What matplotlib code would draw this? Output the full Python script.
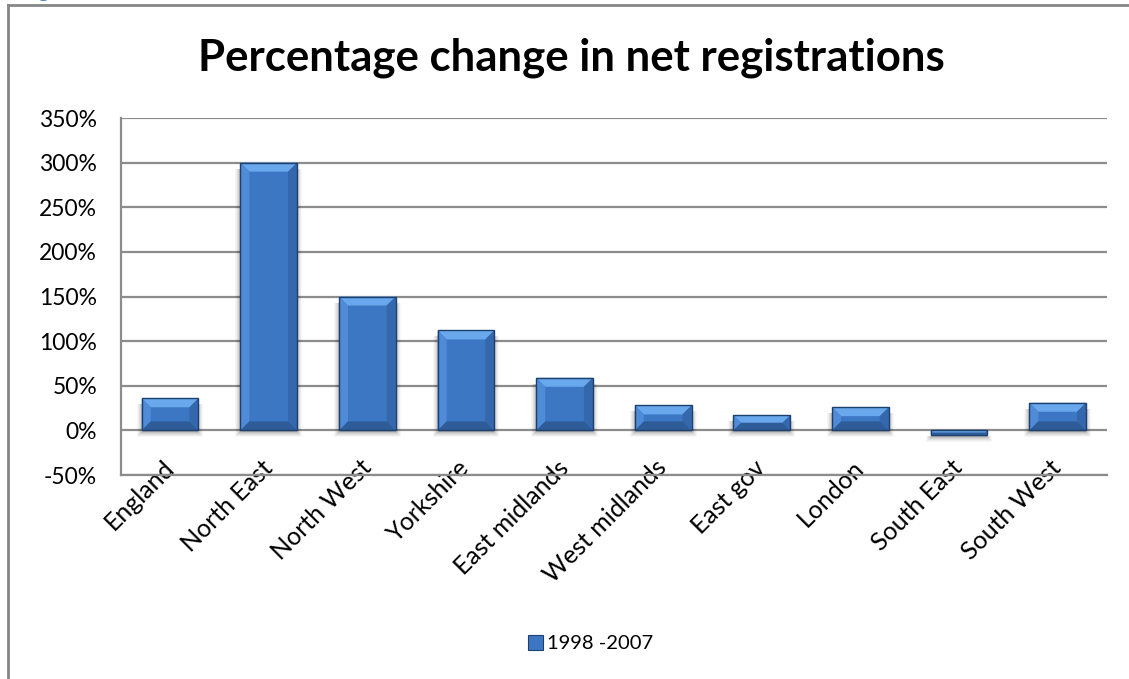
import matplotlib.pyplot as plt
from matplotlib.patches import Polygon, Rectangle
from matplotlib.lines import Line2D
import numpy as np

plt.rcParams['font.family'] = ['Lato', 'DejaVu Sans']

regions = ['England', 'North East', 'North West', 'Yorkshire', 'East midlands',
           'West midlands', 'East gov', 'London', 'South East', 'South West']
pct_change = [36, 300, 150, 112, 59, 28, 17, 26, -5, 31]
series_name = '1998 -2007'
y_ticks = [-50, 0, 50, 100, 150, 200, 250, 300, 350]

face = '#3b77c2'
top_c = '#6aa8ee'
left_c = '#4f8bd6'
right_c = '#3467ab'
bottom_c = '#2d5c99'
edge_c = '#1d3f6e'

fig = plt.figure(figsize=(11.29, 6.79), dpi=100)
ax = fig.add_axes([0.107, 0.3004, 0.8735, 0.5258])

x = np.arange(len(regions))
width = 0.575
ax.set_xlim(-0.5, len(regions) - 0.5)
ax.set_ylim(-50, 350)

ax.set_yticks(y_ticks)
ax.set_yticklabels([f'{v}%' for v in y_ticks], fontsize=16.5)
ax.yaxis.grid(True, color='#8c8c8c', linewidth=1.6)
ax.set_axisbelow(True)
ax.tick_params(axis='y', length=0, pad=17)
ax.set_xticks(x)
ax.set_xticklabels(regions, fontsize=18, rotation=45, ha='right', va='center',
                   rotation_mode='anchor')
ax.tick_params(axis='x', length=0, pad=-8)
for s in ['top', 'right']:
    ax.spines[s].set_visible(False)
ax.spines['left'].set_color('#8c8c8c')
ax.spines['left'].set_linewidth(1.6)
ax.spines['bottom'].set_color('#8c8c8c')
ax.spines['bottom'].set_linewidth(1.6)

to_px = ax.transData
to_data = ax.transData.inverted()

for xi, v in zip(x, pct_change):
    (x0, y0), (x1, y1) = to_px.transform([(xi - width / 2, 0), (xi + width / 2, v)])
    ylo, yhi = min(y0, y1), max(y0, y1)
    h = yhi - ylo
    b = min(9.0, h / 2)

    # soft shadow under the bar
    for k, a in zip(range(6), [0.10, 0.08, 0.06, 0.05, 0.04, 0.03]):
        sh = [(x0 - k, ylo - 2 - k), (x1 + k, ylo - 2 - k),
              (x1 + k, yhi - 6), (x0 - k, yhi - 6)]
        ax.add_patch(Polygon(to_data.transform(sh), closed=True, facecolor='black',
                             edgecolor='none', alpha=a, zorder=2))

    outer = [(x0, ylo), (x1, ylo), (x1, yhi), (x0, yhi)]
    inner = [(x0 + b, ylo + b), (x1 - b, ylo + b), (x1 - b, yhi - b), (x0 + b, yhi - b)]
    ax.add_patch(Polygon(to_data.transform(outer), closed=True, facecolor=face,
                         edgecolor='none', zorder=3))
    bevels = [
        ([outer[3], outer[2], inner[2], inner[3]], top_c),
        ([outer[0], outer[3], inner[3], inner[0]], left_c),
        ([outer[1], outer[2], inner[2], inner[1]], right_c),
        ([outer[0], outer[1], inner[1], inner[0]], bottom_c),
    ]
    for pts, c in bevels:
        ax.add_patch(Polygon(to_data.transform(pts), closed=True, facecolor=c,
                             edgecolor='none', zorder=4))
    ax.add_patch(Polygon(to_data.transform(outer), closed=True, facecolor='none',
                         edgecolor=edge_c, linewidth=1.0, zorder=5))

fig.suptitle('Percentage change in net registrations', x=0.506, y=0.945,
             fontsize=31.5, fontweight='bold')

handle = Rectangle((0, 0), 1, 1, facecolor=face, edgecolor=edge_c, linewidth=0.8)
fig.legend([handle], [series_name], loc='center', bbox_to_anchor=(0.523, 0.052),
           frameon=False, fontsize=14.5, handlelength=0.75, handleheight=0.75,
           handletextpad=0.2)

# outer frame of the chart object
fig.add_artist(Line2D([0.007, 0.007], [0, 0.993], transform=fig.transFigure,
                      color='#868686', linewidth=2))
fig.add_artist(Line2D([0.007, 1.0], [0.993, 0.993], transform=fig.transFigure,
                      color='#868686', linewidth=2))
fig.text(0.033, 1.004, 'g', color='#4f81bd', fontsize=16, fontweight='bold',
         va='baseline')

fig.savefig('out.png', dpi=100)
